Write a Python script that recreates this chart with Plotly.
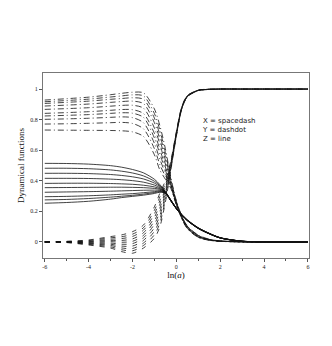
import plotly.graph_objects as go

# sample points in ln(a)
ln_a = [-6, -5, -4, -3, -2.5, -2, -1.5, -1, -0.75, -0.5, -0.25, 0, 0.25, 0.5, 1, 1.5, 2, 3, 4, 6]

# X (spacedash), ten runs
X_vals = [
    [0, 0.004, 0.013, 0.035, 0.046, 0.067, 0.110, 0.230, 0.320, 0.400, 0.530, 0.720, 0.885, 0.957, 0.993, 0.999, 1, 1, 1, 1],
    [0, 0.003, 0.009, 0.027, 0.034, 0.051, 0.093, 0.207, 0.296, 0.384, 0.523, 0.717, 0.883, 0.956, 0.993, 0.999, 1, 1, 1, 1],
    [0, 0.002, 0.005, 0.018, 0.022, 0.036, 0.077, 0.184, 0.271, 0.369, 0.517, 0.713, 0.881, 0.955, 0.992, 0.999, 1, 1, 1, 1],
    [0, 0.001, 0.002, 0.010, 0.010, 0.020, 0.060, 0.161, 0.247, 0.353, 0.510, 0.710, 0.879, 0.954, 0.992, 0.998, 1, 1, 1, 1],
    [0, 0.000, -0.002, 0.002, -0.002, 0.004, 0.043, 0.138, 0.222, 0.338, 0.503, 0.707, 0.877, 0.953, 0.992, 0.998, 1, 1, 1, 1],
    [0, 0.000, -0.005, -0.007, -0.015, -0.011, 0.027, 0.116, 0.198, 0.322, 0.497, 0.703, 0.876, 0.952, 0.991, 0.998, 1, 1, 1, 1],
    [0, -0.001, -0.009, -0.015, -0.027, -0.027, 0.010, 0.093, 0.173, 0.307, 0.490, 0.700, 0.874, 0.951, 0.991, 0.998, 1, 1, 1, 1],
    [0, -0.002, -0.012, -0.023, -0.039, -0.043, -0.007, 0.070, 0.149, 0.291, 0.483, 0.697, 0.873, 0.950, 0.991, 0.998, 1, 1, 1, 1],
    [0, -0.003, -0.016, -0.032, -0.051, -0.058, -0.023, 0.047, 0.124, 0.276, 0.477, 0.693, 0.871, 0.949, 0.990, 0.997, 1, 1, 1, 1],
    [0, -0.004, -0.020, -0.040, -0.063, -0.074, -0.040, 0.024, 0.100, 0.260, 0.470, 0.690, 0.870, 0.948, 0.990, 0.997, 1, 1, 1, 1],
]

# Y (dashdot)
Y_vals = [
    [0.928, 0.937, 0.947, 0.963, 0.972, 0.979, 0.975, 0.870, 0.760, 0.610, 0.420, 0.270, 0.170, 0.105, 0.045, 0.018, 0.007, 0.001, 0, 0],
    [0.917, 0.925, 0.934, 0.948, 0.955, 0.962, 0.955, 0.840, 0.730, 0.585, 0.410, 0.265, 0.168, 0.103, 0.043, 0.017, 0.007, 0.001, 0, 0],
    [0.906, 0.913, 0.921, 0.933, 0.938, 0.943, 0.933, 0.810, 0.700, 0.560, 0.400, 0.262, 0.166, 0.101, 0.041, 0.016, 0.006, 0.001, 0, 0],
    [0.889, 0.895, 0.902, 0.913, 0.918, 0.921, 0.905, 0.780, 0.670, 0.535, 0.390, 0.258, 0.164, 0.099, 0.039, 0.015, 0.006, 0.001, 0, 0],
    [0.867, 0.872, 0.878, 0.888, 0.893, 0.894, 0.875, 0.745, 0.640, 0.510, 0.380, 0.255, 0.162, 0.097, 0.037, 0.014, 0.005, 0.001, 0, 0],
    [0.841, 0.846, 0.852, 0.861, 0.866, 0.865, 0.840, 0.710, 0.605, 0.490, 0.375, 0.252, 0.160, 0.095, 0.035, 0.013, 0.005, 0.001, 0, 0],
    [0.824, 0.828, 0.833, 0.841, 0.845, 0.842, 0.815, 0.680, 0.575, 0.470, 0.370, 0.250, 0.158, 0.093, 0.034, 0.013, 0.005, 0.001, 0, 0],
    [0.802, 0.805, 0.809, 0.815, 0.818, 0.813, 0.780, 0.645, 0.540, 0.450, 0.365, 0.248, 0.156, 0.091, 0.032, 0.012, 0.004, 0.001, 0, 0],
    [0.771, 0.773, 0.776, 0.780, 0.782, 0.775, 0.740, 0.610, 0.505, 0.430, 0.360, 0.245, 0.154, 0.089, 0.031, 0.012, 0.004, 0.001, 0, 0],
    [0.732, 0.731, 0.730, 0.729, 0.727, 0.720, 0.690, 0.570, 0.470, 0.410, 0.350, 0.242, 0.152, 0.087, 0.030, 0.011, 0.004, 0.001, 0, 0],
]

# Z (line)
Z_vals = [
    [0.514, 0.513, 0.509, 0.499, 0.489, 0.474, 0.452, 0.410, 0.375, 0.330, 0.275, 0.222, 0.180, 0.145, 0.093, 0.057, 0.028, 0.005, 0.001, 0],
    [0.482, 0.482, 0.479, 0.471, 0.463, 0.451, 0.432, 0.397, 0.368, 0.328, 0.274, 0.221, 0.179, 0.144, 0.092, 0.056, 0.028, 0.005, 0.001, 0],
    [0.449, 0.449, 0.447, 0.441, 0.435, 0.426, 0.412, 0.385, 0.362, 0.326, 0.273, 0.220, 0.178, 0.143, 0.091, 0.056, 0.027, 0.005, 0.001, 0],
    [0.416, 0.416, 0.415, 0.411, 0.407, 0.401, 0.391, 0.372, 0.355, 0.325, 0.272, 0.220, 0.178, 0.142, 0.091, 0.055, 0.027, 0.005, 0.001, 0],
    [0.383, 0.384, 0.384, 0.382, 0.380, 0.377, 0.371, 0.360, 0.349, 0.324, 0.271, 0.219, 0.177, 0.142, 0.090, 0.055, 0.027, 0.004, 0.001, 0],
    [0.355, 0.356, 0.357, 0.358, 0.358, 0.357, 0.355, 0.350, 0.344, 0.323, 0.270, 0.219, 0.177, 0.141, 0.090, 0.054, 0.027, 0.004, 0.001, 0],
    [0.325, 0.327, 0.329, 0.332, 0.334, 0.336, 0.338, 0.339, 0.338, 0.322, 0.270, 0.218, 0.176, 0.141, 0.089, 0.054, 0.026, 0.004, 0.001, 0],
    [0.296, 0.298, 0.302, 0.308, 0.312, 0.316, 0.322, 0.329, 0.333, 0.321, 0.269, 0.218, 0.176, 0.140, 0.089, 0.054, 0.026, 0.004, 0.001, 0],
    [0.275, 0.278, 0.284, 0.293, 0.299, 0.305, 0.313, 0.323, 0.329, 0.320, 0.268, 0.217, 0.175, 0.140, 0.088, 0.053, 0.026, 0.004, 0.001, 0],
    [0.253, 0.258, 0.266, 0.280, 0.290, 0.298, 0.306, 0.317, 0.325, 0.319, 0.268, 0.217, 0.175, 0.139, 0.088, 0.053, 0.026, 0.004, 0.001, 0],
]

legend_lines = ["X = spacedash", "Y = dashdot", "Z = line"]

fig = go.Figure()

for vals, dash in [(X_vals, "5px,6px"), (Y_vals, "6px,3px,1px,3px"), (Z_vals, "solid")]:
    for row in vals:
        fig.add_trace(go.Scatter(
            x=ln_a, y=row, mode="lines",
            line=dict(color="#111", width=0.8, dash=dash, shape="spline", smoothing=0.8),
            showlegend=False, hoverinfo="skip"))

fig.add_annotation(x=1.1, y=0.80, text="<br>".join(legend_lines), showarrow=False,
                   xanchor="left", yanchor="top", align="left", yshift=5,
                   font=dict(family="DejaVu Sans", size=7, color="#222"))

tick_font = dict(family="Liberation Serif", size=6, color="#222")
fig.update_xaxes(range=[-6.08, 6.05], tickvals=[-6, -4, -2, 0, 2, 4, 6],
                 ticktext=["-6", "-4", "-2", "0", "2", "4", "6"],
                 ticks="outside", ticklen=3, tickcolor="#555",
                 minor=dict(tickvals=[-5, -3, -1, 1, 3, 5], ticks="outside", ticklen=2, tickcolor="#555"),
                 showline=True, linecolor="#777", linewidth=1, mirror=True,
                 showgrid=False, zeroline=False, tickfont=tick_font,
                 title=dict(text="ln(<i>a</i>)", font=dict(family="Liberation Serif", size=9, color="#111"), standoff=2))
fig.update_yaxes(range=[-0.105, 1.105], tickvals=[0, 0.2, 0.4, 0.6, 0.8, 1],
                 ticktext=["0", "0.2", "0.4", "0.6", "0.8", "1"],
                 ticks="outside", ticklen=3, tickcolor="#555",
                 showline=True, linecolor="#777", linewidth=1, mirror=True,
                 showgrid=False, zeroline=False, tickfont=tick_font,
                 title=dict(text="Dynamical functions", font=dict(family="Liberation Serif", size=9, color="#111"), standoff=4))

# page body adds an 8px offset, so the figure is a bit smaller than the window
fig.update_layout(width=324, height=338, margin=dict(l=29, r=23, t=65, b=88),
                  paper_bgcolor="white", plot_bgcolor="white")

fig.write_html("out.html")
